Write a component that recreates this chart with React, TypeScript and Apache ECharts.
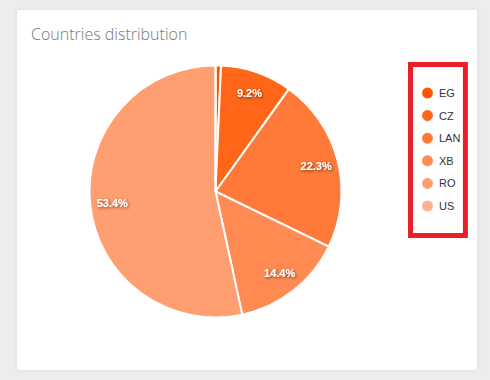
import React, { useEffect, useRef } from "react";
import * as echarts from "echarts";

const categories = ["EG", "CZ", "LAN", "XB", "RO", "US"];
const shares = [0.7, 9.2, 22.3, 14.4, 53.4, 0];
const palette = ["#ff5500", "#ff6618", "#ff7a38", "#ff8b52", "#ff9e70", "#ffb08c"];
const titleText = "Countries distribution";

export default function App() {
  const ref = useRef<HTMLDivElement>(null);
  useEffect(() => {
    if (!ref.current) return;
    const chart = echarts.init(ref.current, null, { renderer: "svg" });
    const data = categories.map((name, i) => ({ name, value: shares[i] }));
    const center = [215.5, 191.5];
    const R = 126;
    chart.setOption({
      animation: false,
      backgroundColor: "#ededed",
      color: palette,
      graphic: [
        {
          type: "rect",
          shape: { x: 17, y: 10, width: 460, height: 360, r: 2 },
          style: { fill: "#ffffff", shadowBlur: 4, shadowColor: "rgba(0,0,0,0.08)" },
          z: -10,
        },
      ],
      title: {
        text: titleText,
        left: 26,
        top: 21,
        textStyle: {
          fontFamily: "Open Sans",
          fontWeight: 300,
          fontSize: 16,
          color: "#76767e",
        },
      },
      legend: {
        orient: "vertical",
        left: 410.5,
        top: 64.5,
        data: categories,
        icon: "circle",
        itemWidth: 13,
        itemHeight: 13,
        itemGap: 7.6,
        padding: [21, 5, 22, 9.5],
        borderColor: "#e8202a",
        borderWidth: 5,
        textStyle: { color: "#333", fontSize: 11, fontFamily: "Arial, Liberation Sans" },
      },
      series: [
        {
          type: "pie",
          center,
          radius: [0, R],
          startAngle: 90,
          data,
          label: { show: false },
          labelLine: { show: false },
          itemStyle: { borderColor: "#ffffff", borderWidth: 2 },
          emphasis: { disabled: true },
        },
        {
          type: "pie",
          center,
          radius: [R * 0.6, R],
          startAngle: 90,
          data,
          silent: true,
          itemStyle: { color: "rgba(0,0,0,0)", borderWidth: 0 },
          label: {
            show: true,
            position: "inside",
            formatter: (p: any) => (p.percent < 3 ? "" : p.value.toFixed(1) + "%"),
            color: "#ffffff",
            fontWeight: "bold",
            fontSize: 11,
            fontFamily: "Arial, Liberation Sans",
            textShadowColor: "rgba(0,0,0,0.6)",
            textShadowBlur: 3,
            textShadowOffsetX: 1,
            textShadowOffsetY: 1,
          },
          labelLine: { show: false },
          emphasis: { disabled: true },
        },
      ],
    });
    return () => chart.dispose();
  }, []);
  return (
    <div
      ref={ref}
      style={{ position: "fixed", left: 0, top: 0, width: 490, height: 380 }}
    />
  );
}
